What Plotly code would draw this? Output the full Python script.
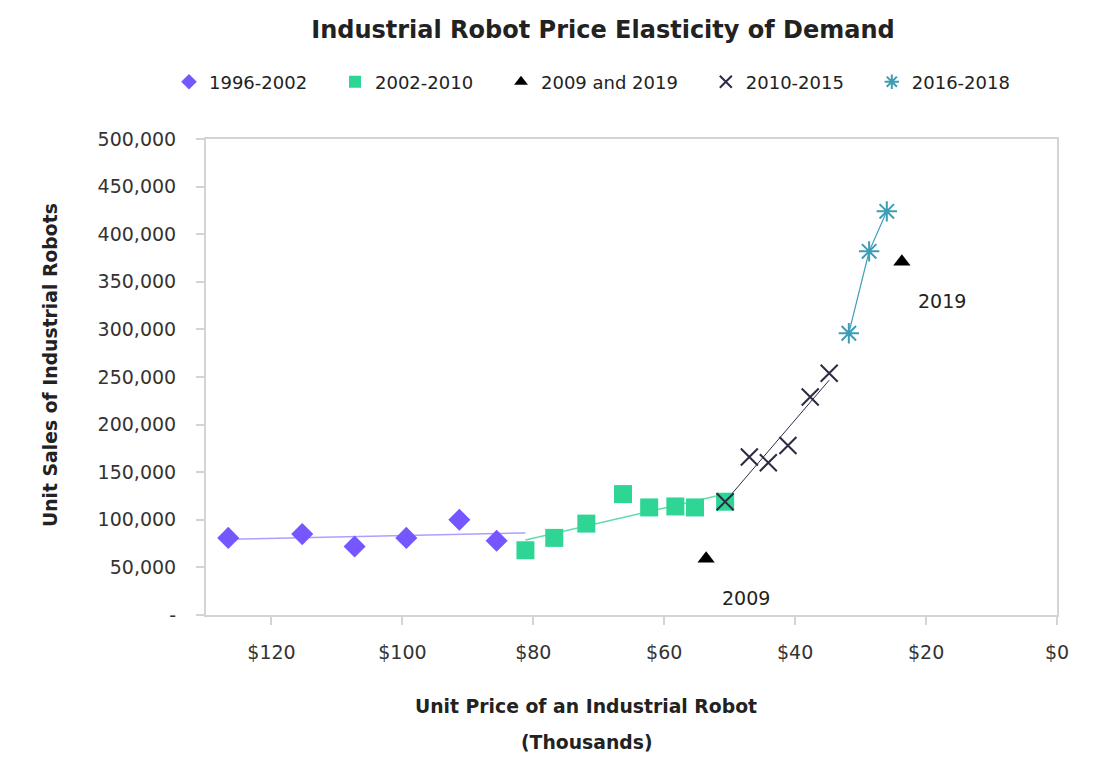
import numpy as np
import plotly.graph_objects as go

# ---- data (price in $ thousands, unit sales) ----
p1_price = [126.6, 115.3, 107.3, 99.4, 91.3, 85.6]
p1_sales = [81000, 85000, 72000, 81000, 100000, 78000]

p2_price = [81.2, 76.8, 71.9, 66.3, 62.3, 58.3, 55.3, 50.7]
p2_sales = [68000, 81000, 96000, 127000, 113000, 114000, 113000, 119000]

tri_price = [53.6, 23.7]
tri_sales = [59000, 371000]
tri_labels = ["2009", "2019"]

p3_price = [50.7, 47.0, 44.1, 41.1, 37.7, 34.8]
p3_sales = [119000, 166000, 160000, 178000, 229000, 254000]

p4_price = [31.8, 28.7, 26.0]
p4_sales = [296000, 382000, 424000]

series_names = ["1996-2002", "2002-2010", "2009 and 2019", "2010-2015", "2016-2018"]

x_ticks = [120, 100, 80, 60, 40, 20, 0]
x_ticktext = ["$120", "$100", "$80", "$60", "$40", "$20", "$0"]
y_ticks = [0, 50000, 100000, 150000, 200000, 250000, 300000, 350000, 400000, 450000, 500000]
y_ticktext = ["-", "50,000", "100,000", "150,000", "200,000", "250,000", "300,000",
              "350,000", "400,000", "450,000", "500,000"]

FONT = "DejaVu Sans"
PURPLE = "#7657ff"
GREEN = "#2fd594"
DARK = "#2b2b45"
TEAL = "#3c9db5"
PAD = "\u00a0" * 4

fig = go.Figure()

# trend lines derived from the data
c1 = np.polyfit(p1_price, p1_sales, 1)
xs1 = np.linspace(max(p1_price), p2_price[0], 20)
fig.add_trace(go.Scatter(x=xs1, y=np.polyval(c1, xs1), mode="lines",
                         line=dict(color="#ad9fff", width=1.5), showlegend=False, hoverinfo="skip"))
c2 = np.polyfit(p2_price, p2_sales, 1)
xs2 = np.linspace(max(p2_price), min(p2_price), 20)
fig.add_trace(go.Scatter(x=xs2, y=np.polyval(c2, xs2), mode="lines",
                         line=dict(color="#5fdcaa", width=1.5), showlegend=False, hoverinfo="skip"))
c3 = np.polyfit(p3_price, p3_sales, 1)
xs3 = np.linspace(max(p3_price), min(p3_price), 20)
fig.add_trace(go.Scatter(x=xs3, y=np.polyval(c3, xs3), mode="lines",
                         line=dict(color=DARK, width=1), showlegend=False, hoverinfo="skip"))
fig.add_trace(go.Scatter(x=p4_price, y=p4_sales, mode="lines",
                         line=dict(color=TEAL, width=1.2), showlegend=False, hoverinfo="skip"))

fig.add_trace(go.Scatter(x=p1_price, y=p1_sales, mode="markers", name=series_names[0] + PAD,
                         marker=dict(symbol="diamond", size=17, color=PURPLE)))
fig.add_trace(go.Scatter(x=p2_price, y=p2_sales, mode="markers", name=series_names[1] + PAD,
                         marker=dict(symbol="square", size=18, color=GREEN)))
fig.add_trace(go.Scatter(x=tri_price, y=tri_sales, mode="markers", name=series_names[2] + PAD,
                         marker=dict(symbol="triangle-up", size=15, color="#000000")))
fig.add_trace(go.Scatter(x=p3_price, y=p3_sales, mode="markers", name=series_names[3] + PAD,
                         marker=dict(symbol="x-thin", size=17, color=DARK,
                                     line=dict(color=DARK, width=2))))
fig.add_trace(go.Scatter(x=p4_price, y=p4_sales, mode="markers", name=series_names[4],
                         marker=dict(symbol="asterisk", size=17, color=TEAL,
                                     line=dict(color=TEAL, width=2))))

for px, py, t in zip(tri_price, tri_sales, tri_labels):
    fig.add_annotation(x=px, y=py, text=t, showarrow=False, xshift=40, yshift=-39,
                       font=dict(family=FONT, size=19, color="#222"))

axis_common = dict(showgrid=False, zeroline=False, showline=True, linecolor="#d4d4d4",
                   linewidth=2, mirror=True, ticks="outside", tickcolor="#d4d4d4",
                   ticklen=8, tickwidth=2,
                   tickfont=dict(family=FONT, size=19, color="#333"))

fig.update_xaxes(range=[130, 0], tickvals=x_ticks, ticktext=x_ticktext,
                 ticklabelstandoff=11, **axis_common)
fig.update_yaxes(range=[0, 500000], tickvals=y_ticks, ticktext=y_ticktext,
                 ticklabelstandoff=16, **axis_common)

AX_TITLE = dict(family=FONT, size=18.8, color="#222")
fig.add_annotation(text="<b>Unit Sales of Industrial Robots</b>", xref="paper", yref="paper",
                   x=(50 - 206) / 851, y=(615 - 365) / 476, showarrow=False, textangle=-90,
                   xanchor="center", yanchor="middle", font=AX_TITLE)
fig.add_annotation(text="<b>Unit Price of an Industrial Robot</b>", xref="paper", yref="paper",
                   x=(586 - 206) / 851, y=-(706 - 615) / 476, showarrow=False,
                   xanchor="center", yanchor="middle", font=AX_TITLE)
fig.add_annotation(text="<b>(Thousands)</b>", xref="paper", yref="paper",
                   x=(586 - 206) / 851, y=-(742 - 615) / 476, showarrow=False,
                   xanchor="center", yanchor="middle", font=AX_TITLE)

fig.update_layout(
    width=1103, height=763,
    margin=dict(l=206, r=46, t=139, b=148),
    paper_bgcolor="white", plot_bgcolor="white",
    title=dict(text="<b>Industrial Robot Price Elasticity of Demand</b>",
               x=603 / 1103, xanchor="center", y=1 - 30 / 763, yanchor="middle",
               font=dict(family=FONT, size=24, color="#222")),
    legend=dict(orientation="h", xref="container", yref="container",
                x=169 / 1103, xanchor="left",
                y=1 - 82 / 763, yanchor="middle",
                font=dict(family=FONT, size=18, color="#222"), itemsizing="constant"),
    showlegend=True,
)

fig.write_html("out.html")
